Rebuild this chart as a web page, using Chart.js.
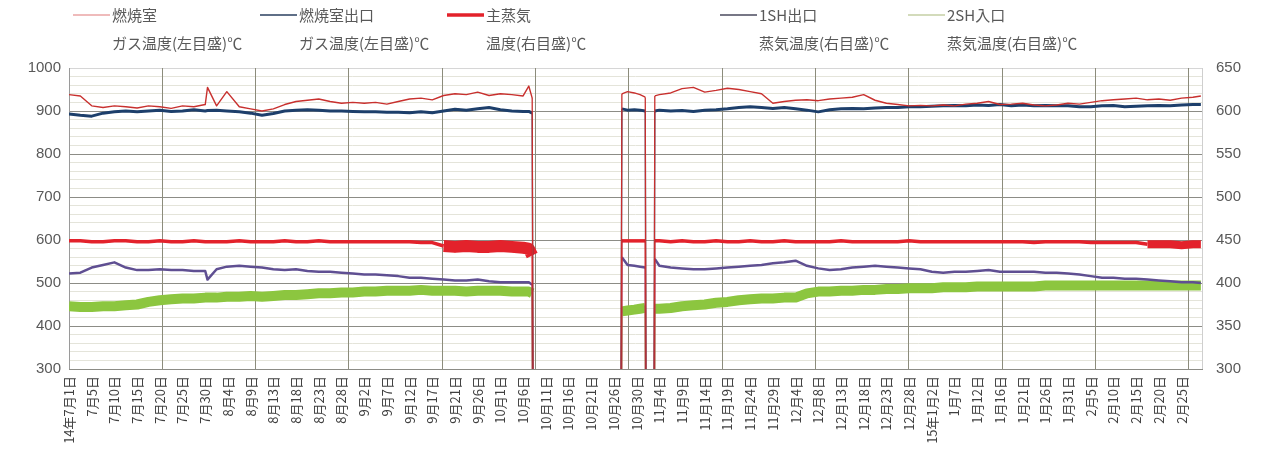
<!DOCTYPE html>
<html>
<head>
<meta charset="utf-8">
<script src="https://cdn.jsdelivr.net/npm/chart.js@4.4.1/dist/chart.umd.min.js"></script>
<style>
  html, body { margin: 0; padding: 0; background: #ffffff; }
  #wrap { width: 1261px; height: 458px; }
</style>
</head>
<body>
<div id="wrap"><canvas id="c" width="1261" height="458"></canvas></div>
<script>
// Date labels shown along the time axis (one per label step)
const dateLabels = [
  '14年7月1日','7月5日','7月10日','7月15日','7月20日','7月25日','7月30日','8月4日','8月9日','8月13日',
  '8月18日','8月23日','8月28日','9月2日','9月7日','9月12日','9月17日','9月21日','9月26日','10月1日',
  '10月6日','10月11日','10月16日','10月21日','10月26日','10月30日','11月4日','11月9日','11月14日','11月19日',
  '11月24日','11月29日','12月4日','12月8日','12月13日','12月18日','12月23日','12月28日','15年1月2日','1月7日',
  '1月12日','1月16日','1月21日','1月26日','1月31日','2月5日','2月10日','2月15日','2月20日','2月25日'
];

// Sample times, measured in label steps from 14年7月1日
const t = [
  0,0.5,1,1.5,2,2.5,3,3.5,4,4.5,5,5.5,6,6.1,6.5,6.95,
  7.5,8,8.5,9,9.5,10,10.5,11,11.5,12,12.5,13,13.5,14,14.5,15,15.5,16,16.5,17,17.5,18,18.5,19,19.5,20,
  20.25,20.4,20.45,
  24.3,24.35,24.6,24.9,25.15,25.38,25.42,
  25.76,25.8,
  26,26.5,27,27.5,28,28.5,29,29.5,30,30.5,31,31.5,32,32.5,33,33.5,34,34.5,35,35.5,
  36,36.5,37,37.5,38,38.5,39,39.5,40,40.5,41,41.5,42,42.5,43,43.5,44,44.5,45,45.5,
  46,46.5,47,47.5,48,48.5,49,49.5,49.85
];

// 燃焼室ガス温度 (left scale, °C); 0 = plant stopped
const gasCombustion = [
  938,935,912,908,912,910,907,912,910,906,912,910,915,955,912,945,
  910,905,900,905,915,922,925,928,922,918,920,918,920,916,922,928,930,926,936,940,938,944,936,940,938,935,
  958,930,0,
  0,940,945,942,938,932,0,
  0,935,
  938,942,952,955,944,948,953,950,945,940,918,922,925,926,924,928,930,932,938,925,
  918,915,912,913,912,914,912,916,918,922,915,916,918,914,912,914,918,916,920,924,
  926,928,930,926,928,925,930,932,935
];

// 燃焼室出口ガス温度 (left scale, °C)
const gasOutlet = [
  893,890,888,895,898,900,898,900,902,899,900,903,900,901,902,900,
  898,895,890,894,900,902,903,902,900,900,899,898,898,897,897,896,898,896,900,904,902,905,908,903,900,899,
  899,895,0,
  0,905,902,903,902,900,0,
  0,900,
  902,900,901,899,902,903,905,908,910,908,906,908,905,902,898,903,905,906,905,907,
  908,908,910,910,911,912,913,912,914,913,915,912,914,912,913,912,912,910,910,912,
  913,910,911,912,913,912,914,915,915
];

// 主蒸気温度 (right scale, °C)
const mainSteam = [
  449,449,448,448,449,449,448,448,449,448,448,449,448,448,448,448,
  449,448,448,448,449,448,448,449,448,448,448,448,448,448,448,448,447,447,443,442,443,442,442,443,442,441,
  440,432,0,
  0,449,449,449,449,449,0,
  0,449,
  449,448,449,448,448,449,448,448,449,448,448,449,448,448,448,448,449,448,448,448,
  448,448,449,448,448,448,448,448,448,448,448,448,448,447,448,448,448,448,447,447,
  447,447,447,445,445,445,444,445,445
];

// 1SH出口蒸気温度 (right scale, °C)
const sh1Outlet = [
  411,412,418,421,424,418,415,415,416,415,415,414,414,404,416,419,
  420,419,418,416,415,416,414,413,413,412,411,410,410,409,408,406,406,405,404,403,403,404,402,401,401,401,
  401,398,0,
  0,430,421,420,419,418,0,
  0,428,
  420,418,417,416,416,417,418,419,420,421,423,424,426,420,417,415,416,418,419,420,
  419,418,417,416,413,412,413,413,414,415,413,413,413,413,412,412,411,410,408,406,
  406,405,405,404,403,402,401,401,400
];

// 2SH入口蒸気温度 (right scale, °C)
const sh2Inlet = [
  373,372,372,373,373,374,375,378,380,381,382,382,383,383,383,384,
  384,385,384,385,386,386,387,388,388,389,389,390,390,391,391,391,392,391,391,391,390,391,391,391,390,390,
  390,388,0,
  0,367,368,369,370,371,0,
  0,370,
  370,371,373,374,375,377,378,380,381,382,382,383,383,388,390,390,391,391,392,392,
  393,393,394,394,394,395,395,395,396,396,396,396,396,396,397,397,397,397,397,397,
  397,397,397,397,397,397,397,397,397
];

// Periods where the main steam reading scatters widely
const steamScatterPeriods = [[16.2, 20.4], [47.3, 49.9]];

const X_MAX = 49.9;        // right end of the time axis, in label steps
const GRID_EVERY = 4.11;   // vertical major gridline spacing, in label steps
const LEFT_MIN = 300, LEFT_MAX = 1000, RIGHT_MIN = 300, RIGHT_MAX = 650;

const toPoints = arr => t.map((x, i) => ({ x, y: arr[i] }));

// Thin segments where the trace drops off-scale (plant stop / restart)
function widthFor(base, minVal) {
  return ctx => {
    if (ctx.p0.parsed.y < minVal || ctx.p1.parsed.y < minVal) return 1.3;
    return base;
  };
}

function steamWidth(ctx) {
  if (ctx.p0.parsed.y < RIGHT_MIN || ctx.p1.parsed.y < RIGHT_MIN) return 1.5;
  const x = ctx.p0.parsed.x;
  for (const [a, b] of steamScatterPeriods) {
    if (x >= a && x < b) return a < 30 ? 12 : 8;
  }
  return 3.5;
}

const datasets = [
  {
    label: '燃焼室\nガス温度(左目盛)℃',
    data: toPoints(gasCombustion), yAxisID: 'y',
    borderColor: '#c8302e', borderWidth: 1.4, legendColor: '#e07878', legendWidth: 1.2,
    segment: { borderWidth: widthFor(1.4, LEFT_MIN) }
  },
  {
    label: '燃焼室出口\nガス温度(左目盛)℃',
    data: toPoints(gasOutlet), yAxisID: 'y',
    borderColor: '#1d3f6b', borderWidth: 3, legendColor: '#2a3f5f', legendWidth: 1.5,
    segment: { borderWidth: widthFor(3, LEFT_MIN) }
  },
  {
    label: '主蒸気\n温度(右目盛)℃',
    data: toPoints(mainSteam), yAxisID: 'y1',
    borderColor: '#e3222b', borderWidth: 3.5, legendColor: '#e3222b', legendWidth: 3.5,
    segment: { borderWidth: steamWidth }
  },
  {
    label: '1SH出口\n蒸気温度(右目盛)℃',
    data: toPoints(sh1Outlet), yAxisID: 'y1',
    borderColor: '#5f4f92', borderWidth: 2.5, legendColor: '#4a4a5e', legendWidth: 1.4,
    segment: { borderWidth: widthFor(2.5, RIGHT_MIN) }
  },
  {
    label: '2SH入口\n蒸気温度(右目盛)℃',
    data: toPoints(sh2Inlet), yAxisID: 'y1',
    borderColor: '#8cc63f', borderWidth: 10, legendColor: '#a8b878', legendWidth: 1.2,
    segment: { borderWidth: widthFor(10, RIGHT_MIN) }
  }
];

// Legend laid out as a row of two-line entries across the top
const legendX = [73, 260, 447, 720, 908];
const twoLineLegend = {
  id: 'twoLineLegend',
  afterDraw(chart) {
    const ctx = chart.ctx;
    ctx.save();
    ctx.font = '15px "Noto Sans CJK JP"';
    ctx.fillStyle = '#595959';
    ctx.textBaseline = 'middle';
    ctx.textAlign = 'left';
    chart.data.datasets.forEach((ds, i) => {
      const x0 = legendX[i];
      ctx.strokeStyle = ds.legendColor;
      ctx.lineWidth = ds.legendWidth;
      ctx.beginPath();
      ctx.moveTo(x0, 15);
      ctx.lineTo(x0 + 37, 15);
      ctx.stroke();
      const lines = ds.label.split('\n');
      ctx.fillText(lines[0], x0 + 39, 15);
      ctx.fillText(lines[1], x0 + 39, 43);
    });
    ctx.restore();
  }
};

new Chart(document.getElementById('c'), {
  type: 'line',
  data: { datasets },
  plugins: [twoLineLegend],
  options: {
    responsive: false,
    animation: false,
    devicePixelRatio: 1,
    layout: { padding: { top: 68, left: 0, right: 0, bottom: 0 } },
    elements: {
      point: { radius: 0, hoverRadius: 0 },
      line: { tension: 0, borderJoinStyle: 'round', borderCapStyle: 'butt', fill: false }
    },
    datasets: { line: { clip: 0 } },
    plugins: { legend: { display: false }, tooltip: { enabled: false } },
    scales: {
      ym: {
        type: 'linear', position: 'left', min: LEFT_MIN, max: LEFT_MAX, z: -1,
        ticks: { display: false, stepSize: 20 },
        grid: { color: '#e4e4da', lineWidth: 1, drawTicks: false },
        border: { display: false },
        afterFit: s => { s.width = 0; }
      },
      y: {
        type: 'linear', position: 'left', min: LEFT_MIN, max: LEFT_MAX,
        ticks: { stepSize: 100, color: '#595959', padding: 8, font: { family: '"Liberation Sans"', size: 15 },
                 callback: v => String(v) },
        grid: { color: c => (c.tick && c.tick.value === LEFT_MAX) ? '#d6d6d6' : '#8c8c86', lineWidth: 1, drawTicks: false },
        border: { display: true, color: '#9a9a9a' },
        afterFit: s => { s.width = 69; }
      },
      y1: {
        type: 'linear', position: 'right', min: RIGHT_MIN, max: RIGHT_MAX,
        ticks: { stepSize: 50, color: '#595959', padding: 14, font: { family: '"Liberation Sans"', size: 15 },
                 callback: v => String(v) },
        grid: { display: false, drawTicks: false },
        border: { display: true, color: '#cfcfcf' },
        afterFit: s => { s.width = 59; }
      },
      x: {
        type: 'linear', position: 'bottom', min: 0, max: X_MAX,
        afterBuildTicks: s => { s.ticks = dateLabels.map((_, i) => ({ value: i })); },
        ticks: {
          autoSkip: false, minRotation: 90, maxRotation: 90, padding: 7,
          color: '#404040', font: { family: '"Noto Sans CJK JP"', size: 13 },
          callback: v => dateLabels[v]
        },
        grid: { display: false, drawTicks: false },
        border: { display: true, color: '#8c8c86' },
        afterFit: s => { s.height = 89; }
      },
      xg: {
        type: 'linear', position: 'bottom', min: 0, max: X_MAX,
        afterBuildTicks: s => {
          const ticks = [];
          for (let k = 0; k * GRID_EVERY <= X_MAX; k++) ticks.push({ value: k * GRID_EVERY });
          s.ticks = ticks;
        },
        ticks: { display: false },
        grid: { color: '#8c8c7c', lineWidth: 1, drawTicks: false },
        border: { display: false },
        afterFit: s => { s.height = 0; }
      }
    }
  }
});
</script>
</body>
</html>
